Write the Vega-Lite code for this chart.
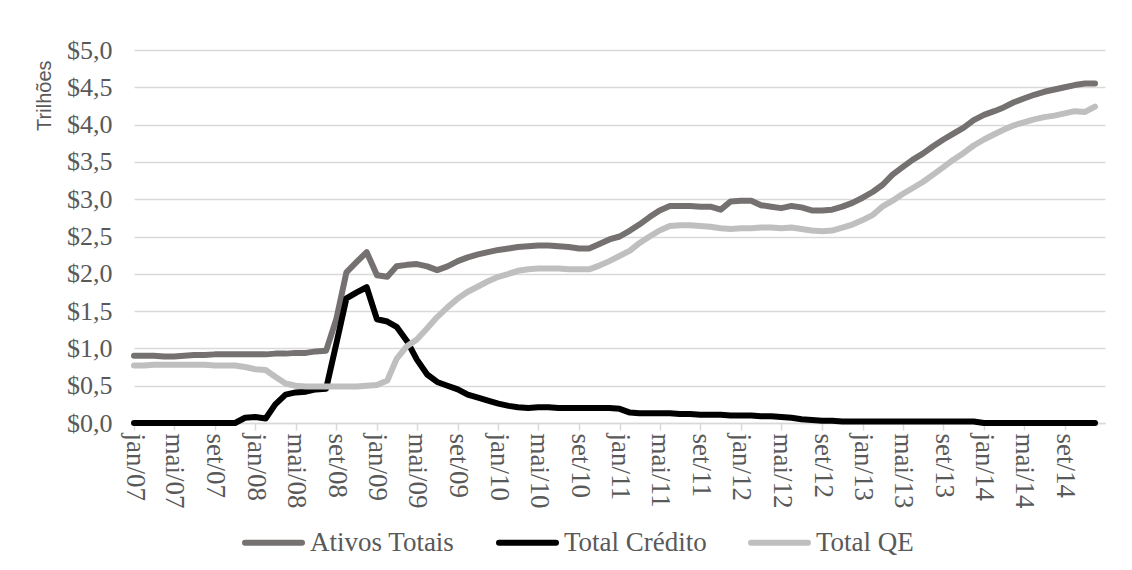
{
  "$schema": "https://vega.github.io/schema/vega-lite/v6.json",
  "width": 971,
  "height": 373,
  "autosize": {"type": "none"},
  "padding": {"left": 134, "top": 50, "right": 27, "bottom": 147},
  "background": "white",
  "data": {
    "values": [
      {"d": "2007-01-01", "a": 0.90, "c": 0.00, "q": 0.77},
      {"d": "2007-02-01", "a": 0.90, "c": 0.00, "q": 0.77},
      {"d": "2007-03-01", "a": 0.90, "c": 0.00, "q": 0.78},
      {"d": "2007-04-01", "a": 0.89, "c": 0.00, "q": 0.78},
      {"d": "2007-05-01", "a": 0.89, "c": 0.00, "q": 0.78},
      {"d": "2007-06-01", "a": 0.90, "c": 0.00, "q": 0.78},
      {"d": "2007-07-01", "a": 0.91, "c": 0.00, "q": 0.78},
      {"d": "2007-08-01", "a": 0.91, "c": 0.00, "q": 0.78},
      {"d": "2007-09-01", "a": 0.92, "c": 0.00, "q": 0.77},
      {"d": "2007-10-01", "a": 0.92, "c": 0.00, "q": 0.77},
      {"d": "2007-11-01", "a": 0.92, "c": 0.00, "q": 0.77},
      {"d": "2007-12-01", "a": 0.92, "c": 0.07, "q": 0.75},
      {"d": "2008-01-01", "a": 0.92, "c": 0.08, "q": 0.72},
      {"d": "2008-02-01", "a": 0.92, "c": 0.06, "q": 0.71},
      {"d": "2008-03-01", "a": 0.93, "c": 0.25, "q": 0.62},
      {"d": "2008-04-01", "a": 0.93, "c": 0.38, "q": 0.53},
      {"d": "2008-05-01", "a": 0.94, "c": 0.41, "q": 0.50},
      {"d": "2008-06-01", "a": 0.94, "c": 0.42, "q": 0.49},
      {"d": "2008-07-01", "a": 0.96, "c": 0.45, "q": 0.49},
      {"d": "2008-08-01", "a": 0.97, "c": 0.46, "q": 0.49},
      {"d": "2008-09-01", "a": 1.40, "c": 1.07, "q": 0.49},
      {"d": "2008-10-01", "a": 2.02, "c": 1.67, "q": 0.49},
      {"d": "2008-11-01", "a": 2.16, "c": 1.75, "q": 0.49},
      {"d": "2008-12-01", "a": 2.29, "c": 1.82, "q": 0.50},
      {"d": "2009-01-01", "a": 1.98, "c": 1.39, "q": 0.51},
      {"d": "2009-02-01", "a": 1.96, "c": 1.36, "q": 0.57},
      {"d": "2009-03-01", "a": 2.10, "c": 1.29, "q": 0.86},
      {"d": "2009-04-01", "a": 2.12, "c": 1.10, "q": 1.03},
      {"d": "2009-05-01", "a": 2.13, "c": 0.85, "q": 1.12},
      {"d": "2009-06-01", "a": 2.10, "c": 0.65, "q": 1.27},
      {"d": "2009-07-01", "a": 2.05, "c": 0.55, "q": 1.42},
      {"d": "2009-08-01", "a": 2.10, "c": 0.50, "q": 1.55},
      {"d": "2009-09-01", "a": 2.17, "c": 0.45, "q": 1.67},
      {"d": "2009-10-01", "a": 2.22, "c": 0.38, "q": 1.76},
      {"d": "2009-11-01", "a": 2.26, "c": 0.34, "q": 1.83},
      {"d": "2009-12-01", "a": 2.29, "c": 0.30, "q": 1.90},
      {"d": "2010-01-01", "a": 2.32, "c": 0.26, "q": 1.96},
      {"d": "2010-02-01", "a": 2.34, "c": 0.23, "q": 2.00},
      {"d": "2010-03-01", "a": 2.36, "c": 0.21, "q": 2.04},
      {"d": "2010-04-01", "a": 2.37, "c": 0.20, "q": 2.06},
      {"d": "2010-05-01", "a": 2.38, "c": 0.21, "q": 2.07},
      {"d": "2010-06-01", "a": 2.38, "c": 0.21, "q": 2.07},
      {"d": "2010-07-01", "a": 2.37, "c": 0.20, "q": 2.07},
      {"d": "2010-08-01", "a": 2.36, "c": 0.20, "q": 2.06},
      {"d": "2010-09-01", "a": 2.34, "c": 0.20, "q": 2.06},
      {"d": "2010-10-01", "a": 2.34, "c": 0.20, "q": 2.06},
      {"d": "2010-11-01", "a": 2.40, "c": 0.20, "q": 2.11},
      {"d": "2010-12-01", "a": 2.46, "c": 0.20, "q": 2.17},
      {"d": "2011-01-01", "a": 2.50, "c": 0.19, "q": 2.24},
      {"d": "2011-02-01", "a": 2.58, "c": 0.14, "q": 2.31},
      {"d": "2011-03-01", "a": 2.66, "c": 0.13, "q": 2.41},
      {"d": "2011-04-01", "a": 2.76, "c": 0.13, "q": 2.50},
      {"d": "2011-05-01", "a": 2.85, "c": 0.13, "q": 2.58},
      {"d": "2011-06-01", "a": 2.91, "c": 0.13, "q": 2.64},
      {"d": "2011-07-01", "a": 2.91, "c": 0.12, "q": 2.65},
      {"d": "2011-08-01", "a": 2.91, "c": 0.12, "q": 2.65},
      {"d": "2011-09-01", "a": 2.90, "c": 0.11, "q": 2.64},
      {"d": "2011-10-01", "a": 2.90, "c": 0.11, "q": 2.63},
      {"d": "2011-11-01", "a": 2.86, "c": 0.11, "q": 2.61},
      {"d": "2011-12-01", "a": 2.97, "c": 0.10, "q": 2.60},
      {"d": "2012-01-01", "a": 2.98, "c": 0.10, "q": 2.61},
      {"d": "2012-02-01", "a": 2.98, "c": 0.10, "q": 2.61},
      {"d": "2012-03-01", "a": 2.92, "c": 0.09, "q": 2.62},
      {"d": "2012-04-01", "a": 2.90, "c": 0.09, "q": 2.62},
      {"d": "2012-05-01", "a": 2.88, "c": 0.08, "q": 2.61},
      {"d": "2012-06-01", "a": 2.91, "c": 0.07, "q": 2.62},
      {"d": "2012-07-01", "a": 2.89, "c": 0.05, "q": 2.60},
      {"d": "2012-08-01", "a": 2.85, "c": 0.04, "q": 2.58},
      {"d": "2012-09-01", "a": 2.85, "c": 0.03, "q": 2.57},
      {"d": "2012-10-01", "a": 2.86, "c": 0.03, "q": 2.58},
      {"d": "2012-11-01", "a": 2.90, "c": 0.02, "q": 2.62},
      {"d": "2012-12-01", "a": 2.95, "c": 0.02, "q": 2.66},
      {"d": "2013-01-01", "a": 3.02, "c": 0.02, "q": 2.72},
      {"d": "2013-02-01", "a": 3.10, "c": 0.02, "q": 2.79},
      {"d": "2013-03-01", "a": 3.19, "c": 0.02, "q": 2.90},
      {"d": "2013-04-01", "a": 3.33, "c": 0.02, "q": 2.98},
      {"d": "2013-05-01", "a": 3.43, "c": 0.02, "q": 3.07},
      {"d": "2013-06-01", "a": 3.53, "c": 0.02, "q": 3.15},
      {"d": "2013-07-01", "a": 3.61, "c": 0.02, "q": 3.23},
      {"d": "2013-08-01", "a": 3.71, "c": 0.02, "q": 3.33},
      {"d": "2013-09-01", "a": 3.80, "c": 0.02, "q": 3.43},
      {"d": "2013-10-01", "a": 3.88, "c": 0.02, "q": 3.53},
      {"d": "2013-11-01", "a": 3.96, "c": 0.02, "q": 3.62},
      {"d": "2013-12-01", "a": 4.06, "c": 0.02, "q": 3.72},
      {"d": "2014-01-01", "a": 4.13, "c": 0.00, "q": 3.80},
      {"d": "2014-02-01", "a": 4.18, "c": 0.00, "q": 3.87},
      {"d": "2014-03-01", "a": 4.23, "c": 0.00, "q": 3.93},
      {"d": "2014-04-01", "a": 4.30, "c": 0.00, "q": 3.99},
      {"d": "2014-05-01", "a": 4.35, "c": 0.00, "q": 4.03},
      {"d": "2014-06-01", "a": 4.40, "c": 0.00, "q": 4.07},
      {"d": "2014-07-01", "a": 4.44, "c": 0.00, "q": 4.10},
      {"d": "2014-08-01", "a": 4.47, "c": 0.00, "q": 4.12},
      {"d": "2014-09-01", "a": 4.50, "c": 0.00, "q": 4.15},
      {"d": "2014-10-01", "a": 4.53, "c": 0.00, "q": 4.18},
      {"d": "2014-11-01", "a": 4.55, "c": 0.00, "q": 4.17},
      {"d": "2014-12-01", "a": 4.55, "c": 0.00, "q": 4.24}
    ]
  },
  "transform": [
    {"fold": ["a", "c", "q"], "as": ["k", "v"]},
    {"lookup": "k", "from": {"data": {"values": [
      {"k": "a", "serie": "Ativos Totais"},
      {"k": "c", "serie": "Total Crédito"},
      {"k": "q", "serie": "Total QE"}
    ]}, "key": "k", "fields": ["serie"]}}
  ],
  "mark": {"type": "line", "strokeWidth": 6, "strokeJoin": "round", "strokeCap": "round", "clip": false},
  "encoding": {
    "x": {
      "field": "d", "type": "temporal",
      "scale": {"type": "utc", "domain": [1167609600000, 1419984000000]},
      "axis": {
        "title": null,
        "grid": false,
        "tickCount": {"interval": "month", "step": 4},
        "labelExpr": "['jan','fev','mar','abr','mai','jun','jul','ago','set','out','nov','dez'][utcmonth(datum.value)] + '/' + utcFormat(datum.value, '%y')",
        "labelAngle": 90,
        "labelFlush": false,
        "labelOverlap": false,
        "labelBound": false,
        "labelPadding": 3,
        "labelFont": "Liberation Serif",
        "labelFontSize": 27,
        "labelColor": "#595959",
        "domainColor": "#d9d9d9",
        "domainWidth": 1.5,
        "tickColor": "#d9d9d9",
        "tickWidth": 1.5,
        "tickSize": 7
      }
    },
    "y": {
      "field": "v", "type": "quantitative",
      "scale": {"domain": [0, 5], "nice": false, "zero": true},
      "axis": {
        "title": "Trilhões",
        "titleFont": "Liberation Sans",
        "titleFontSize": 20,
        "titleFontWeight": "normal",
        "titleColor": "#595959",
        "titleAngle": -90,
        "titleAlign": "right",
        "titleBaseline": "middle",
        "titleX": -90,
        "titleY": 10,
        "values": [0, 0.5, 1, 1.5, 2, 2.5, 3, 3.5, 4, 4.5, 5],
        "labelExpr": "'$' + replace(format(datum.value, '.1f'), '.', ',')",
        "labelFont": "Liberation Serif",
        "labelFontSize": 26,
        "labelColor": "#595959",
        "labelPadding": 22,
        "domain": false,
        "ticks": false,
        "grid": true,
        "gridColor": "#d9d9d9",
        "gridWidth": 1.5
      }
    },
    "color": {
      "field": "serie", "type": "nominal",
      "scale": {"domain": ["Ativos Totais", "Total Crédito", "Total QE"], "range": ["#767171", "#000000", "#bfbfbf"]},
      "legend": {
        "title": null,
        "orient": "none",
        "direction": "horizontal",
        "legendX": 108,
        "legendY": 461,
        "symbolType": "stroke",
        "symbolSize": 3249,
        "symbolStrokeWidth": 6,
        "labelFont": "Liberation Serif",
        "labelFontSize": 27,
        "labelColor": "#595959",
        "labelOffset": 5,
        "columnPadding": 32,
        "labelLimit": 300,
        "encode": {"symbols": {"update": {"strokeCap": {"value": "round"}}}}
      }
    }
  },
  "config": {"view": {"stroke": null}}
}
